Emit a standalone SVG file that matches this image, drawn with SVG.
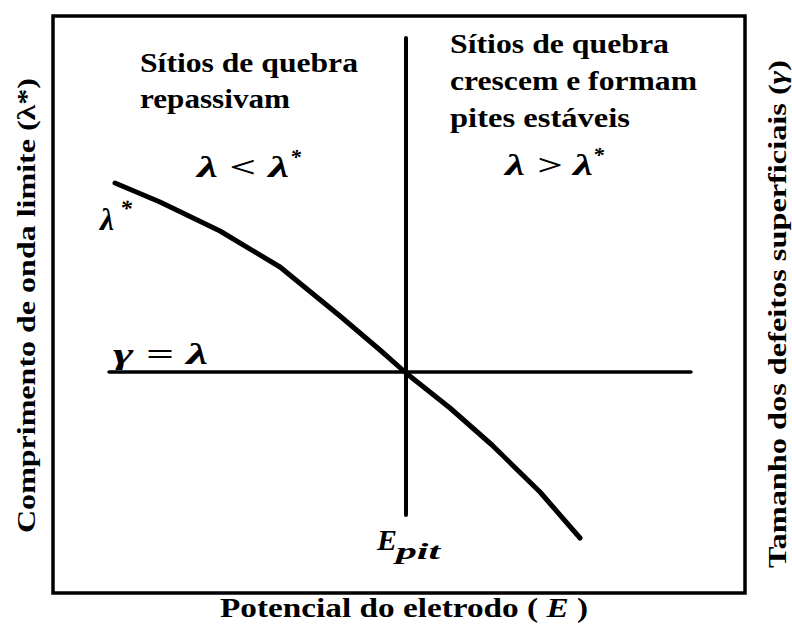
<svg xmlns="http://www.w3.org/2000/svg" width="792" height="630" viewBox="0 0 792 630" font-family="'Liberation Serif', 'Times New Roman', 'DejaVu Serif', serif">
  <style>
    text { font-family: 'Liberation Serif', 'Times New Roman', 'DejaVu Serif', serif; font-weight: 700; fill: #000; }
    .m { font-style: italic; }
    .ln { stroke: #000; fill: none; stroke-linecap: round; stroke-linejoin: round; }
  </style>
  <rect width="792" height="630" fill="#fff"/>
  <g id="frame">
    <rect x="53" y="16" width="692" height="577" fill="none" stroke="#000" stroke-width="3.5"/>
  </g>
  <g id="connectors">
    <line id="v-line" class="ln" x1="406" y1="38" x2="406" y2="515" stroke-width="4"/>
    <line id="h-line" class="ln" x1="109" y1="372" x2="691" y2="372" stroke-width="3.5"/>
    <polyline id="curve" class="ln" stroke-width="5" points="115,183 160,202 220,231 280,267 340,316 380,350 406,373 450,408 492,445 540,492 580,538"/>
  </g>
  <g id="left-region">
    <text x="140" y="72" font-size="28" textLength="218" lengthAdjust="spacingAndGlyphs">Sítios de quebra</text>
    <text x="140" y="108" font-size="28" textLength="150" lengthAdjust="spacingAndGlyphs">repassivam</text>
    <text class="m" x="197" y="177" font-size="30" textLength="92" lengthAdjust="spacingAndGlyphs">λ &lt; λ</text>
    <text class="m" x="290" y="164" font-size="22">*</text>
  </g>
  <g id="right-region">
    <text x="450" y="53" font-size="28" textLength="219" lengthAdjust="spacingAndGlyphs">Sítios de quebra</text>
    <text x="450" y="90" font-size="28" textLength="247" lengthAdjust="spacingAndGlyphs">crescem e formam</text>
    <text x="450" y="127" font-size="28" textLength="180" lengthAdjust="spacingAndGlyphs">pites estáveis</text>
    <text class="m" x="505" y="175" font-size="30" textLength="88" lengthAdjust="spacingAndGlyphs">λ &gt; λ</text>
    <text class="m" x="593" y="162" font-size="22">*</text>
  </g>
  <g id="curve-label">
    <text class="m" x="100" y="230" font-size="32">λ</text>
    <text class="m" x="120" y="216" font-size="24">*</text>
  </g>
  <g id="line-label">
    <text class="m" x="113" y="364" font-size="30" textLength="95" lengthAdjust="spacingAndGlyphs">γ = λ</text>
  </g>
  <g id="epit-label">
    <text class="m" x="377" y="550" font-size="30">E</text>
    <text class="m" x="396" y="559" font-size="24" textLength="44" lengthAdjust="spacingAndGlyphs">pit</text>
  </g>
  <g id="x-axis-label">
    <text x="220" y="617" font-size="28" textLength="368" lengthAdjust="spacingAndGlyphs">Potencial do eletrodo ( <tspan font-style="italic">E</tspan> )</text>
  </g>
  <g id="y-axis-left-label">
    <text transform="translate(35,533) rotate(-90)" x="0" y="0" font-size="26" textLength="455" lengthAdjust="spacingAndGlyphs">Comprimento de onda limite (λ*)</text>
  </g>
  <g id="y-axis-right-label">
    <text transform="translate(786,568) rotate(-90)" x="0" y="0" font-size="26" textLength="508" lengthAdjust="spacingAndGlyphs">Tamanho dos defeitos superficiais (<tspan font-style="italic">γ</tspan>)</text>
  </g>
</svg>
